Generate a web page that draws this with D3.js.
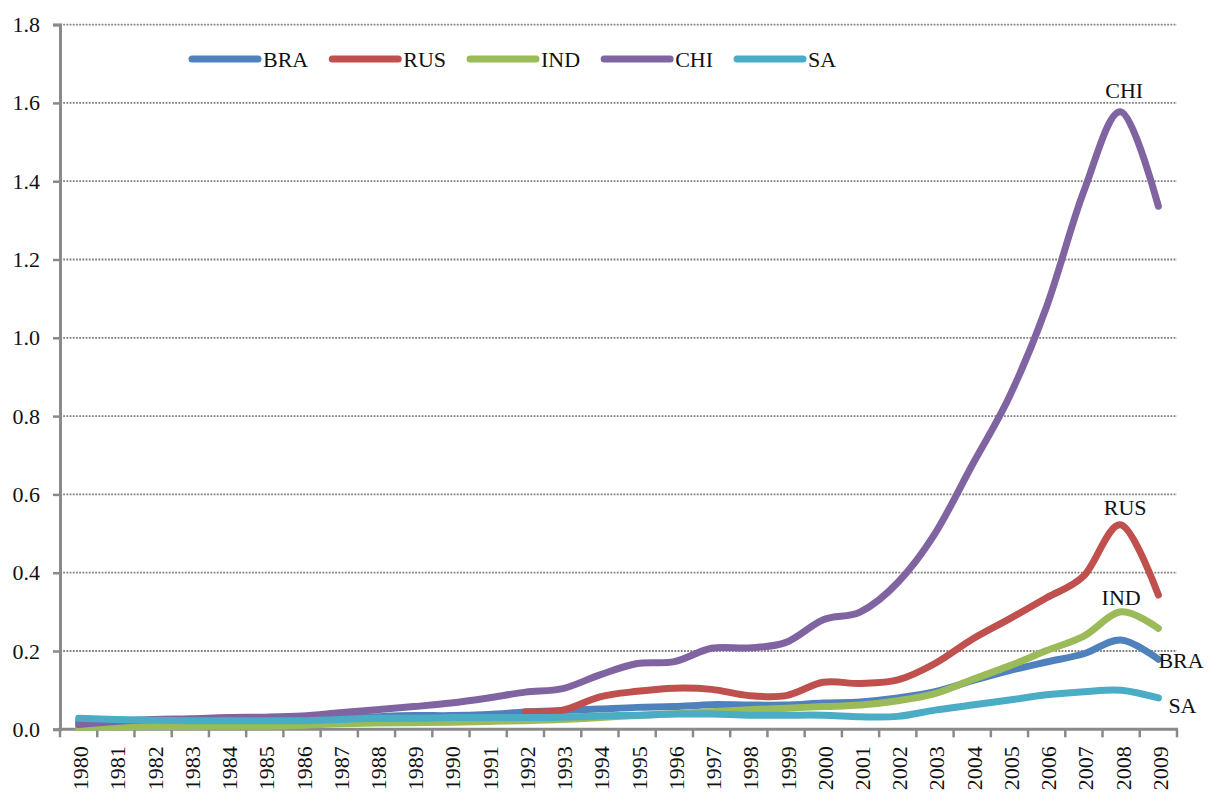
<!DOCTYPE html>
<html>
<head>
<meta charset="utf-8">
<script src="https://cdn.jsdelivr.net/npm/d3@7"></script>
<style>
  html, body { margin: 0; padding: 0; background: #fff; }
  svg { display: block; }
  text { font-family: "Liberation Serif", "Times New Roman", serif; fill: #111; }
</style>
</head>
<body>
<svg id="chart" width="1214" height="795"></svg>
<script>
// ---- data ----
const years = ["1980","1981","1982","1983","1984","1985","1986","1987","1988","1989",
               "1990","1991","1992","1993","1994","1995","1996","1997","1998","1999",
               "2000","2001","2002","2003","2004","2005","2006","2007","2008","2009"];
const yTicks = [0.0, 0.2, 0.4, 0.6, 0.8, 1.0, 1.2, 1.4, 1.6, 1.8];
const seriesNames = ["BRA", "RUS", "IND", "CHI", "SA"];
const BRA = [0.020,0.020,0.020,0.020,0.021,0.022,0.024,0.028,0.032,0.035,
             0.035,0.038,0.044,0.048,0.052,0.056,0.058,0.063,0.062,0.062,
             0.067,0.070,0.080,0.096,0.124,0.150,0.172,0.193,0.228,0.179];
const RUS = [null,null,null,null,null,null,null,null,null,null,
             null,null,0.045,0.049,0.083,0.097,0.105,0.102,0.086,0.086,
             0.120,0.117,0.126,0.168,0.230,0.282,0.336,0.392,0.522,0.343];
const IND = [0.005,0.006,0.007,0.007,0.008,0.008,0.010,0.014,0.016,0.017,
             0.018,0.020,0.022,0.025,0.030,0.035,0.040,0.045,0.050,0.054,
             0.058,0.062,0.073,0.091,0.127,0.162,0.201,0.238,0.300,0.258];
const CHI = [0.012,0.020,0.025,0.027,0.030,0.031,0.034,0.042,0.050,0.058,
             0.067,0.080,0.095,0.104,0.139,0.168,0.173,0.207,0.208,0.222,
             0.280,0.300,0.375,0.500,0.675,0.850,1.080,1.375,1.577,1.336];
const SA  = [0.028,0.025,0.023,0.022,0.022,0.022,0.022,0.025,0.028,0.028,
             0.030,0.030,0.030,0.031,0.034,0.036,0.039,0.039,0.036,0.036,
             0.036,0.032,0.033,0.049,0.062,0.075,0.088,0.096,0.100,0.080];
const seriesValues = [BRA, RUS, IND, CHI, SA];
const seriesColors = ["#4F81BD", "#C0504D", "#9BBB59", "#8064A2", "#4BACC6"];

// end labels: [series, year index, dx, dy, anchor]
const endLabels = [
  ["CHI", 28, 3, -14, "middle"],
  ["RUS", 28, 4, -10, "middle"],
  ["IND", 28, 0, -7, "middle"],
  ["BRA", 29, 0, 9, "start"],
  ["SA", 29, 10, 15, "start"]
];

// ---- layout ----
const svg = d3.select("#chart");
const mLeft = 60, mRight = 1177, mTop = 24.6, mBottom = 729.3;

const x = d3.scaleBand().domain(years).range([mLeft, mRight]).padding(0);
const y = d3.scaleLinear().domain([0, 1.8]).range([mBottom, mTop]);

const axisColor = "#8a8a8a";
const fontSize = 22;

// gridlines
svg.append("g").selectAll("line")
  .data(yTicks.filter(d => d > 0))
  .join("line")
  .attr("x1", mLeft).attr("x2", mRight)
  .attr("y1", d => y(d)).attr("y2", d => y(d))
  .attr("stroke", "#7f7f7f")
  .attr("stroke-width", 1.8)
  .attr("stroke-dasharray", "1.8,1.4");

// y axis
const yAxis = d3.axisLeft(y).tickValues(yTicks).tickFormat(d3.format(".1f")).tickSize(7).tickPadding(13);
const gy = svg.append("g").attr("transform", `translate(${mLeft},0)`).call(yAxis);
gy.select(".domain").attr("stroke", axisColor).attr("stroke-width", 3);
gy.selectAll(".tick line").attr("stroke", axisColor).attr("stroke-width", 2.5);
gy.selectAll(".tick text").attr("font-size", fontSize).attr("fill", "#111")
  .attr("font-family", "Liberation Serif, Times New Roman, serif");

// x axis line and ticks at category boundaries
const boundaries = years.map(d => x(d)).concat([mRight]);
svg.append("g").selectAll("line")
  .data(boundaries)
  .join("line")
  .attr("x1", d => d).attr("x2", d => d)
  .attr("y1", mBottom).attr("y2", mBottom + 8)
  .attr("stroke", axisColor).attr("stroke-width", 2.5);
svg.append("line")
  .attr("x1", mLeft - 1.5).attr("x2", mRight + 1)
  .attr("y1", mBottom).attr("y2", mBottom)
  .attr("stroke", axisColor).attr("stroke-width", 3);

// x labels
svg.append("g").selectAll("text")
  .data(years)
  .join("text")
  .attr("transform", d => `translate(${x(d) + x.bandwidth() / 2 + 2},${mBottom + 17}) rotate(-90)`)
  .attr("text-anchor", "end")
  .attr("dominant-baseline", "central")
  .attr("font-size", fontSize)
  .text(d => d);

// lines
const line = d3.line()
  .defined(d => d.v !== null)
  .x(d => x(d.year) + x.bandwidth() / 2)
  .y(d => y(d.v))
  .curve(d3.curveCardinal.tension(0));

seriesNames.forEach((name, i) => {
  const data = years.map((yr, j) => ({ year: yr, v: seriesValues[i][j] }));
  svg.append("path")
    .datum(data)
    .attr("fill", "none")
    .attr("stroke", seriesColors[i])
    .attr("stroke-width", 7)
    .attr("stroke-linecap", "round")
    .attr("stroke-linejoin", "round")
    .attr("d", line);
});

// end labels
endLabels.forEach(([name, idx, dx, dy, anchor]) => {
  const i = seriesNames.indexOf(name);
  svg.append("text")
    .attr("x", x(years[idx]) + x.bandwidth() / 2 + dx)
    .attr("y", y(seriesValues[i][idx]) + dy)
    .attr("text-anchor", anchor)
    .attr("font-size", fontSize)
    .text(name);
});

// legend
const legend = svg.append("g").attr("transform", "translate(192,59)");
let lx = 0;
seriesNames.forEach((name, i) => {
  const g = legend.append("g").attr("transform", `translate(${lx},0)`);
  g.append("line").attr("x1", 0).attr("x2", 66).attr("y1", 0).attr("y2", 0)
    .attr("stroke", seriesColors[i]).attr("stroke-width", 7).attr("stroke-linecap", "round");
  const t = g.append("text").attr("x", 71).attr("y", 8).attr("font-size", fontSize).text(name);
  const w = t.node().getComputedTextLength();
  lx += 71 + w + 24;
});
</script>
</body>
</html>
